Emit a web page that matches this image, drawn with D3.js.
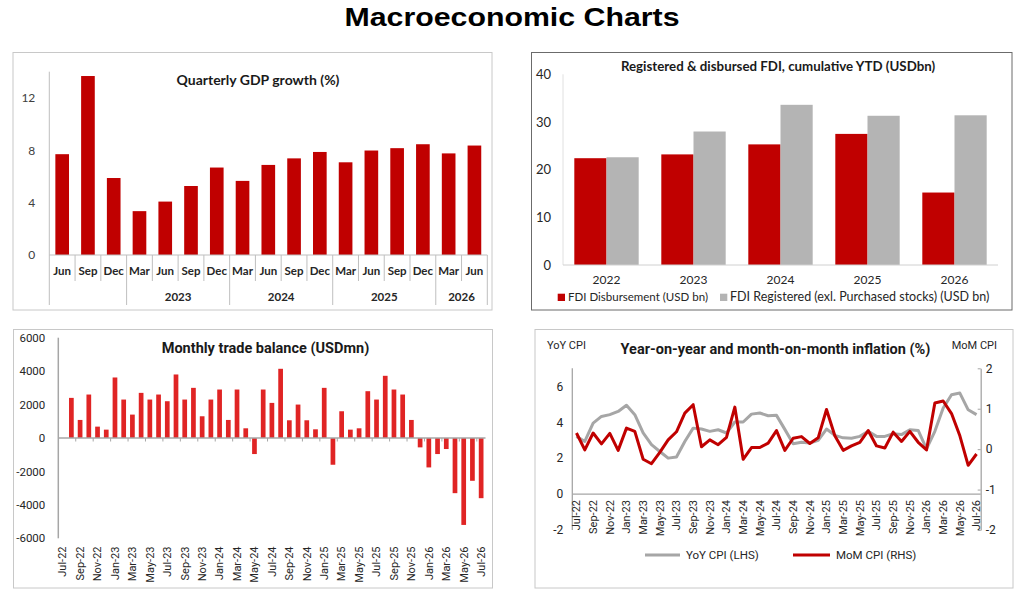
<!DOCTYPE html>
<html>
<head>
<meta charset="utf-8">
<script src="https://cdn.jsdelivr.net/npm/d3@7"></script>
<style>
body { margin: 0; background: #fff; }
</style>
</head>
<body>
<script>
// ---- data ----
var gdpQuarters = ["Jun","Sep","Dec","Mar","Jun","Sep","Dec","Mar","Jun","Sep","Dec","Mar","Jun","Sep","Dec","Mar","Jun"];
var gdpYears = ["", "2023", "2024", "2025", "2026"];
var gdpYearSpans = [3, 4, 4, 4, 2];
var gdpValues = [7.7, 13.67, 5.88, 3.35, 4.08, 5.27, 6.68, 5.66, 6.88, 7.38, 7.87, 7.08, 7.98, 8.16, 8.46, 7.76, 8.36];
var gdpTicks = [0, 4, 8, 12];

var fdiYears = ["2022", "2023", "2024", "2025", "2026"];
var fdiDisbursed = [22.4, 23.2, 25.3, 27.5, 15.2];
var fdiRegistered = [22.6, 28.0, 33.6, 31.3, 31.4];
var fdiTicks = [0, 10, 20, 30, 40];

var months = ["Jul-22","Aug-22","Sep-22","Oct-22","Nov-22","Dec-22",
  "Jan-23","Feb-23","Mar-23","Apr-23","May-23","Jun-23","Jul-23","Aug-23","Sep-23","Oct-23","Nov-23","Dec-23",
  "Jan-24","Feb-24","Mar-24","Apr-24","May-24","Jun-24","Jul-24","Aug-24","Sep-24","Oct-24","Nov-24","Dec-24",
  "Jan-25","Feb-25","Mar-25","Apr-25","May-25","Jun-25","Jul-25","Aug-25","Sep-25","Oct-25","Nov-25","Dec-25",
  "Jan-26","Feb-26","Mar-26","Apr-26","May-26","Jun-26","Jul-26"];

var tradeBalance = [null, 2400, 1080, 2600, 680, 500, 3620, 2300, 1400, 2700, 2300, 2600, 2200, 3800, 2300, 3000,
  1300, 2300, 2900, 1080, 2900, 580, -960, 2900, 2100, 4140, 1060, 2000, 1060, 520, 3000, -1600, 1600, 500, 580,
  2800, 2300, 3720, 2900, 2600, 1080, -560, -1760, -960, -660, -3300, -5200, -2560, -3600];
var tradeTicks = [-6000, -4000, -2000, 0, 2000, 4000, 6000];

var cpiYoY = [3.21, 2.93, 3.95, 4.32, 4.42, 4.6, 4.94, 4.42, 3.4, 2.75, 2.37, 2.0, 2.06, 2.93, 3.67, 3.62, 3.49,
  3.58, 3.4, 4.01, 4.01, 4.45, 4.51, 4.36, 4.38, 3.6, 2.8, 2.88, 2.84, 2.99, 3.62, 3.27, 3.13, 3.11, 3.21, 3.49,
  3.21, 3.21, 3.36, 3.31, 3.58, 3.54, 2.52, 3.49, 4.79, 5.53, 5.62, 4.69, 4.42];
var cpiMoM = [0.4, -0.02, 0.4, 0.13, 0.39, -0.03, 0.52, 0.44, -0.25, -0.36, -0.08, 0.23, 0.43, 0.89, 1.1, 0.06,
  0.23, 0.11, 0.29, 1.04, -0.25, 0.04, 0.04, 0.15, 0.46, -0.03, 0.27, 0.31, 0.14, 0.28, 0.98, 0.33, -0.03, 0.08,
  0.17, 0.46, 0.08, 0.03, 0.42, 0.19, 0.44, 0.17, -0.02, 1.14, 1.19, 0.88, 0.33, -0.4, -0.12];
var yoyTicks = [-2, 0, 2, 4, 6];
var momTicks = [-2, -1, 0, 1, 2];

var darkRed = "#c00000";
var brightRed = "#e02424";
var grey = "#b4b4b4";
var axisGrey = "#bfbfbf";
var plain = function(d) { return String(d); };  // keep ascii hyphen for negatives

var svg = d3.select("body").append("svg").attr("width", 1024).attr("height", 595);

svg.append("text")
  .attr("x", 512).attr("y", 26)
  .attr("text-anchor", "middle")
  .attr("font-family", "Liberation Sans, Arial, sans-serif")
  .attr("font-weight", "bold").attr("font-size", 26)
  .attr("textLength", 335).attr("lengthAdjust", "spacingAndGlyphs")
  .text("Macroeconomic Charts");

// panel borders
svg.append("rect").attr("x", 13).attr("y", 52.5).attr("width", 479).attr("height", 257.5)
  .attr("fill", "none").attr("stroke", "#c8c8c8");
svg.append("rect").attr("x", 531.5).attr("y", 52.5).attr("width", 480.5).attr("height", 257.5)
  .attr("fill", "none").attr("stroke", "#6b6b6b");
svg.append("rect").attr("x", 13.5).attr("y", 329.5).attr("width", 479).attr("height", 258.5)
  .attr("fill", "none").attr("stroke", "#c8c8c8");
svg.append("rect").attr("x", 535).attr("y", 329.5).attr("width", 478).attr("height", 258.5)
  .attr("fill", "none").attr("stroke", "#c8c8c8");

function styleTicks(g, font, size, color) {
  g.select(".domain").remove();
  g.selectAll("text").attr("font-family", font).attr("font-size", size).attr("fill", color);
}

// ---- Quarterly GDP ----
var top1 = svg.append("g");
var gx = d3.scaleBand().domain(d3.range(gdpValues.length)).range([49.3, 487.3]).paddingInner(0.47).paddingOuter(0.235);
var gy = d3.scaleLinear().domain([0, 14]).range([255, 71.7]);
var lato = "Lato, Carlito, sans-serif";

top1.selectAll("rect.bar").data(gdpValues).enter().append("rect")
  .attr("class", "bar")
  .attr("x", function(d, i) { return gx(i); })
  .attr("y", function(d) { return gy(d); })
  .attr("width", gx.bandwidth())
  .attr("height", function(d) { return gy(0) - gy(d); })
  .attr("fill", darkRed);

top1.append("g").attr("transform", "translate(49.3,0)")
  .call(d3.axisLeft(gy).tickValues(gdpTicks).tickSize(0).tickPadding(14))
  .call(styleTicks, lato, 12, "#404040");

top1.append("line").attr("x1", 49.3).attr("x2", 49.3).attr("y1", 71.7).attr("y2", 305).attr("stroke", axisGrey);
top1.append("line").attr("x1", 49.3).attr("x2", 487.3).attr("y1", gy(0)).attr("y2", gy(0)).attr("stroke", axisGrey);

var step = gx.step();
var groupEdges = [0];
gdpYearSpans.forEach(function(s) { groupEdges.push(groupEdges[groupEdges.length - 1] + s); });
d3.range(1, gdpValues.length + 1).forEach(function(k) {
  var isGroup = groupEdges.indexOf(k) >= 0;
  top1.append("line")
    .attr("x1", 49.3 + k * step).attr("x2", 49.3 + k * step)
    .attr("y1", gy(0)).attr("y2", isGroup ? 305 : 281)
    .attr("stroke", axisGrey);
});

top1.selectAll("text.q").data(gdpQuarters).enter().append("text")
  .attr("class", "q")
  .attr("x", function(d, i) { return gx(i) + gx.bandwidth() / 2; })
  .attr("y", 275)
  .attr("text-anchor", "middle")
  .attr("font-family", lato).attr("font-weight", "bold").attr("font-size", 11.5).attr("fill", "#262626")
  .text(function(d) { return d; });

top1.selectAll("text.yr").data(gdpYears).enter().append("text")
  .attr("class", "yr")
  .attr("x", function(d, i) { return 49.3 + (groupEdges[i] + groupEdges[i + 1]) / 2 * step; })
  .attr("y", 301)
  .attr("text-anchor", "middle")
  .attr("font-family", lato).attr("font-weight", "bold").attr("font-size", 11.5).attr("fill", "#262626")
  .text(function(d) { return d; });

top1.append("text").attr("x", 258).attr("y", 84.5).attr("text-anchor", "middle")
  .attr("font-family", lato).attr("font-weight", "bold").attr("font-size", 14).attr("fill", "#1a1a1a")
  .text("Quarterly GDP growth (%)");

// ---- FDI ----
var top2 = svg.append("g");
var fx0 = d3.scaleBand().domain(fdiYears).range([563, 998]).paddingInner(0.26).paddingOuter(0.13);
var fx1 = d3.scaleBand().domain(["disb", "reg"]).range([0, fx0.bandwidth()]);
var fy = d3.scaleLinear().domain([0, 40]).range([265, 74.3]);

top2.append("line").attr("x1", 563).attr("x2", 563).attr("y1", 74.3).attr("y2", 265).attr("stroke", "#e0e0e0");

top2.selectAll("rect.d").data(fdiDisbursed).enter().append("rect")
  .attr("class", "d")
  .attr("x", function(d, i) { return fx0(fdiYears[i]) + fx1("disb"); })
  .attr("y", function(d) { return fy(d); })
  .attr("width", fx1.bandwidth())
  .attr("height", function(d) { return fy(0) - fy(d); })
  .attr("fill", darkRed);

top2.selectAll("rect.r").data(fdiRegistered).enter().append("rect")
  .attr("class", "r")
  .attr("x", function(d, i) { return fx0(fdiYears[i]) + fx1("reg"); })
  .attr("y", function(d) { return fy(d); })
  .attr("width", fx1.bandwidth())
  .attr("height", function(d) { return fy(0) - fy(d); })
  .attr("fill", grey);

top2.append("line").attr("x1", 563).attr("x2", 998).attr("y1", fy(0)).attr("y2", fy(0)).attr("stroke", "#d0d0d0");

top2.append("g").attr("transform", "translate(563,0)")
  .call(d3.axisLeft(fy).tickValues(fdiTicks).tickSize(0).tickPadding(12))
  .call(styleTicks, lato, 13, "#262626");

top2.append("g").attr("transform", "translate(0,265)")
  .call(d3.axisBottom(fx0).tickSize(0).tickPadding(10))
  .call(styleTicks, lato, 12, "#262626");

top2.append("text").attr("x", 778).attr("y", 71).attr("text-anchor", "middle")
  .attr("font-family", lato).attr("font-weight", "bold").attr("font-size", 13.3).attr("fill", "#1a1a1a")
  .text("Registered & disbursed FDI, cumulative YTD (USDbn)");

top2.append("rect").attr("x", 557.7).attr("y", 293.7).attr("width", 7.3).attr("height", 7.3).attr("fill", darkRed);
top2.append("text").attr("x", 568).attr("y", 301).attr("font-family", lato).attr("font-size", 11.5).attr("fill", "#262626")
  .text("FDI Disbursement (USD bn)");
top2.append("rect").attr("x", 720).attr("y", 293.7).attr("width", 7.3).attr("height", 7.3).attr("fill", grey);
top2.append("text").attr("x", 730).attr("y", 301).attr("font-family", lato).attr("font-size", 12.5).attr("fill", "#262626")
  .text("FDI Registered (exl. Purchased stocks) (USD bn)");

// ---- Monthly trade balance ----
var bot1 = svg.append("g");
var robo = "Roboto, Arial, sans-serif";
var tx = d3.scaleBand().domain(months).range([58.3, 485.5]).paddingInner(0.46).paddingOuter(0.23);
var ty = d3.scaleLinear().domain([-6000, 6000]).range([538.3, 337.7]);

var tradeRows = months.map(function(m, i) { return { month: m, value: tradeBalance[i] }; })
  .filter(function(r) { return r.value !== null; });

bot1.selectAll("rect").data(tradeRows).enter().append("rect")
  .attr("x", function(d) { return tx(d.month); })
  .attr("y", function(d) { return ty(Math.max(0, d.value)); })
  .attr("width", tx.bandwidth())
  .attr("height", function(d) { return Math.abs(ty(d.value) - ty(0)); })
  .attr("fill", brightRed);

bot1.append("g").attr("transform", "translate(58.3,0)")
  .call(d3.axisLeft(ty).tickValues(tradeTicks).tickFormat(plain).tickSize(0).tickPadding(13))
  .call(styleTicks, robo, 11.5, "#262626");
bot1.append("line").attr("x1", 58.3).attr("x2", 58.3).attr("y1", 337.7).attr("y2", 538.3).attr("stroke", "#a6a6a6").attr("stroke-width", 1.5);
bot1.append("line").attr("x1", 58.3).attr("x2", 485.5).attr("y1", ty(0)).attr("y2", ty(0)).attr("stroke", "#a6a6a6").attr("stroke-width", 1.5);

var tstep = tx.step();
d3.range(2, months.length, 2).forEach(function(k) {
  bot1.append("line").attr("x1", 58.3 + k * tstep).attr("x2", 58.3 + k * tstep)
    .attr("y1", ty(0)).attr("y2", ty(0) + 3.5).attr("stroke", "#a6a6a6");
});

bot1.selectAll("text.m").data(months.filter(function(d, i) { return i % 2 === 0; })).enter().append("text")
  .attr("class", "m")
  .attr("transform", function(d) { return "translate(" + (tx(d) + tx.bandwidth() / 2 + 3.8) + ",546.5) rotate(-90)"; })
  .attr("text-anchor", "end")
  .attr("font-family", robo).attr("font-size", 11).attr("fill", "#262626")
  .text(function(d) { return d; });

bot1.append("text").attr("x", 265.5).attr("y", 353).attr("text-anchor", "middle")
  .attr("font-family", robo).attr("font-weight", "bold").attr("font-size", 14.5).attr("fill", "#1a1a1a")
  .text("Monthly trade balance (USDmn)");

// ---- CPI ----
var bot2 = svg.append("g");
var cx = d3.scaleBand().domain(months).range([572.3, 980.7]);
var cyL = d3.scaleLinear().domain([-2, 7]).range([530, 368.3]);
var cyR = d3.scaleLinear().domain([-2, 2]).range([530, 368.3]);
function mid(m) { return cx(m) + cx.bandwidth() / 2; }

bot2.append("line").attr("x1", 572.3).attr("x2", 572.3).attr("y1", 368.3).attr("y2", 530).attr("stroke", "#a6a6a6").attr("stroke-width", 1.3);
bot2.append("line").attr("x1", 572.3).attr("x2", 980.7).attr("y1", cyL(0)).attr("y2", cyL(0)).attr("stroke", "#a6a6a6").attr("stroke-width", 1.3);

bot2.append("g").attr("transform", "translate(572.3,0)")
  .call(d3.axisLeft(cyL).tickValues(yoyTicks).tickFormat(plain).tickSize(0).tickPadding(9))
  .call(styleTicks, robo, 12, "#262626");

var rAxis = bot2.append("g").attr("transform", "translate(980.7,0)")
  .call(d3.axisRight(cyR).tickValues(momTicks).tickFormat(plain).tickSizeInner(-3).tickSizeOuter(0).tickPadding(5));
rAxis.select(".domain").attr("stroke", "#a6a6a6").attr("stroke-width", 1.3);
rAxis.selectAll("line").attr("stroke", "#a6a6a6");
rAxis.selectAll("text").attr("font-family", robo).attr("font-size", 12).attr("fill", "#262626");

var yoyLine = d3.line().x(function(d, i) { return mid(months[i]); }).y(function(d) { return cyL(d); });
var momLine = d3.line().x(function(d, i) { return mid(months[i]); }).y(function(d) { return cyR(d); });

bot2.append("path").datum(cpiYoY).attr("d", yoyLine)
  .attr("fill", "none").attr("stroke", "#a6a6a6").attr("stroke-width", 3).attr("stroke-linejoin", "round");
bot2.append("path").datum(cpiMoM).attr("d", momLine)
  .attr("fill", "none").attr("stroke", darkRed).attr("stroke-width", 3).attr("stroke-linejoin", "round");

bot2.selectAll("text.m").data(months.filter(function(d, i) { return i % 2 === 0; })).enter().append("text")
  .attr("class", "m")
  .attr("transform", function(d) { return "translate(" + (mid(d) + 3.8) + ",500) rotate(-90)"; })
  .attr("text-anchor", "end")
  .attr("font-family", robo).attr("font-size", 11).attr("fill", "#262626")
  .text(function(d) { return d; });

bot2.append("text").attr("x", 775.5).attr("y", 353.5).attr("text-anchor", "middle")
  .attr("font-family", robo).attr("font-weight", "bold").attr("font-size", 14.5).attr("fill", "#1a1a1a")
  .text("Year-on-year and month-on-month inflation (%)");
bot2.append("text").attr("x", 547).attr("y", 348.5)
  .attr("font-family", robo).attr("font-size", 11).attr("fill", "#262626").text("YoY CPI");
bot2.append("text").attr("x", 997).attr("y", 348.5).attr("text-anchor", "end")
  .attr("font-family", robo).attr("font-size", 11).attr("fill", "#262626").text("MoM CPI");

bot2.append("line").attr("x1", 645).attr("x2", 680).attr("y1", 555).attr("y2", 555).attr("stroke", "#a6a6a6").attr("stroke-width", 3);
bot2.append("text").attr("x", 686).attr("y", 559).attr("font-family", robo).attr("font-size", 11.5).attr("fill", "#262626")
  .text("YoY CPI (LHS)");
bot2.append("line").attr("x1", 793).attr("x2", 830).attr("y1", 555).attr("y2", 555).attr("stroke", darkRed).attr("stroke-width", 3);
bot2.append("text").attr("x", 836).attr("y", 559).attr("font-family", robo).attr("font-size", 11.5).attr("fill", "#262626")
  .text("MoM CPI (RHS)");
</script>
</body>
</html>
